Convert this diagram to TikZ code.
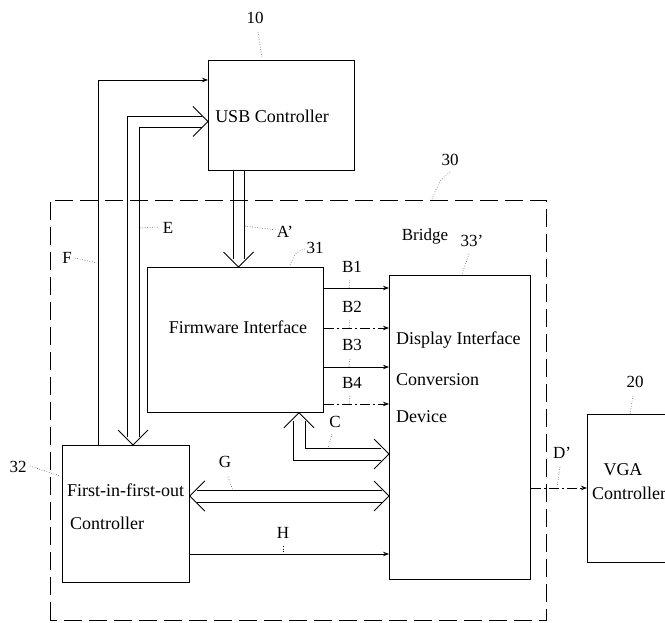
\documentclass[tikz,border=0pt]{standalone}
\usepackage{fontspec}
\setmainfont{Liberation Serif}
\usetikzlibrary{calc,arrows.meta}
\tikzset{
  box/.style={draw, line width=0.8pt, rectangle, anchor=north west, inner sep=0pt},
  ln/.style={line width=0.8pt},
  arr/.style={line width=0.8pt, -{Stealth[length=6pt,width=4.5pt]}},
  lead/.style={line width=0.5pt, dotted},
  lbl/.style={font=\fontsize{17}{19}\selectfont, inner sep=0pt},
  txt/.style={font=\fontsize{18}{21}\selectfont, inner sep=0pt},
  bridgeline/.style={line width=0.8pt, dash pattern=on 18pt off 7pt},
  dd/.style={dash pattern=on 10pt off 3pt on 2pt off 3pt}
}
\begin{document}
\begin{tikzpicture}[x=1pt,y=-1pt]
\useasboundingbox (0,0) rectangle (665,623);
\clip (0,0) rectangle (665,623);
% boxes
\node[box, minimum width=146, minimum height=110] (usb) at (208,60) {};
\node[box, minimum width=176, minimum height=145] (fw) at (147,267) {};
\node[box, minimum width=141, minimum height=304] (disp) at (389,275) {};
\node[box, minimum width=127, minimum height=137] (fifo) at (62,445) {};
\node[box, minimum width=130, minimum height=148] (vga) at (587,414) {};
\draw[bridgeline] (50,620) |- (546,200) -- (546,620) -- (50,620);
% box texts
\node[txt] (usbt) at (272,116) {USB Controller};
\node[txt] (fwt) at (238,327) {Firmware Interface};
\node[txt, anchor=west] (dt1) at (396,340) {Display Interface};
\node[txt, anchor=west] (dt2) at (396,380) {Conversion};
\node[txt, anchor=west] (dt3) at (396,417) {Device};
\node[txt, anchor=west] (ft1) at (67,490) {First-in-first-out};
\node[txt, anchor=west] (ft2) at (70,523) {Controller};
\node[txt] (vt1) at (623,470) {VGA};
\node[txt, anchor=west] (vt2) at (592,493) {Controller};
% A' (double arrow down)
\draw[ln] ($(usb.south west)+(25,0)$) -- ($(fw.north west)+(86,-8)$);
\draw[ln] ($(usb.south west)+(36,0)$) -- ($(fw.north west)+(97,-8)$);
\draw[ln] ($(fw.north west)+(76.5,-15)$) -- ($(fw.north west)+(91.5,0)$) -- ($(fw.north west)+(106.5,-15)$);
% E (double bidirectional)
\draw[ln] ($(usb.north west)+(-6,56)$) -| ($(fifo.north west)+(65,-8)$);
\draw[ln] ($(usb.north west)+(-6,67)$) -| ($(fifo.north west)+(77,-8)$);
\draw[ln] ($(usb.north west)+(-15,46.5)$) -- ($(usb.north west)+(0,61.5)$) -- ($(usb.north west)+(-15,76.5)$);
\draw[ln] ($(fifo.north west)+(56,-15)$) -- ($(fifo.north west)+(71,0)$) -- ($(fifo.north west)+(86,-15)$);
% F
\draw[arr] ($(fifo.north west)+(36,0)$) |- ($(usb.north west)+(0,20)$);
% B1..B4
\draw[arr] ($(fw.north east)+(0,21)$) -- ($(disp.north west)+(0,13)$);
\draw[arr,dd] ($(fw.north east)+(0,61)$) -- ($(disp.north west)+(0,53)$);
\draw[arr] ($(fw.north east)+(0,100)$) -- ($(disp.north west)+(0,92)$);
\draw[arr,dd] ($(fw.north east)+(0,137)$) -- ($(disp.north west)+(0,129)$);
% C
\draw[ln] ($(fw.south west)+(146,8)$) |- ($(disp.north west)+(-8,185)$);
\draw[ln] ($(fw.south west)+(158,8)$) |- ($(disp.north west)+(-8,173)$);
\draw[ln] ($(fw.south west)+(137,15)$) -- ($(fw.south west)+(152,0)$) -- ($(fw.south west)+(167,15)$);
\draw[ln] ($(disp.north west)+(-15,164)$) -- ($(disp.north west)+(0,179)$) -- ($(disp.north west)+(-15,194)$);
% G
\draw[ln] ($(fifo.north east)+(7,45)$) -- ($(disp.north west)+(-7,215)$);
\draw[ln] ($(fifo.north east)+(7,57)$) -- ($(disp.north west)+(-7,227)$);
\draw[ln] ($(fifo.north east)+(15,36)$) -- ($(fifo.north east)+(0,51)$) -- ($(fifo.north east)+(15,66)$);
\draw[ln] ($(disp.north west)+(-15,206)$) -- ($(disp.north west)+(0,221)$) -- ($(disp.north west)+(-15,236)$);
% H
\draw[arr] ($(fifo.north east)+(0,109)$) -- ($(disp.north west)+(0,279)$);
% D'
\draw[arr,dd] ($(disp.north east)+(0,213)$) -- ($(vga.north west)+(0,74)$);
% labels
\node[lbl] (l10) at (255,18) {10};
\draw[lead] (258,32) -- (262,58);
\node[lbl] (l30) at (450,160) {30};
\draw[lead] (450,172) .. controls (440,180) .. (432,199);
\node[lbl] (lbr) at (425,236) {Bridge};
\node[lbl] (l33) at (472,241) {33'};
\draw[lead] (469,254) -- (462,274);
\node[lbl] (l31) at (315,248) {31};
\draw[lead] (305,249) .. controls (296,252) .. (290,265);
\node[lbl] (lE) at (168,228) {E};
\draw[lead] (140,228) -- (159,227);
\node[lbl] (lA) at (285,232) {A'};
\draw[lead] (245,226) -- (276,230);
\node[lbl] (lF) at (67,258) {F};
\draw[lead] (75,258) -- (97,263);
\node[lbl] (lB1) at (352,267) {B1};
\draw[lead] (350,280) -- (349,288);
\node[lbl] (lB2) at (352,307) {B2};
\draw[lead] (350,320) -- (349,328);
\node[lbl] (lB3) at (352,345) {B3};
\draw[lead] (350,359) -- (349,367);
\node[lbl] (lB4) at (352,383) {B4};
\draw[lead] (350,396) -- (349,404);
\node[lbl] (lC) at (335,422) {C};
\draw[lead] (332,434) -- (328,448);
\node[lbl] (lG) at (225,462) {G};
\draw[lead] (228,477) -- (233,490);
\node[lbl] (lH) at (283,533) {H};
\draw[lead] (283,546) -- (283,554);
\node[lbl] (lD) at (562,453) {D'};
\draw[lead] (560,467) -- (557,487);
\node[lbl] (l20) at (635,382) {20};
\draw[lead] (633,396) -- (630,414);
\node[lbl] (l32) at (18,467) {32};
\draw[lead] (30,466) -- (60,476);
\end{tikzpicture}
\end{document}
